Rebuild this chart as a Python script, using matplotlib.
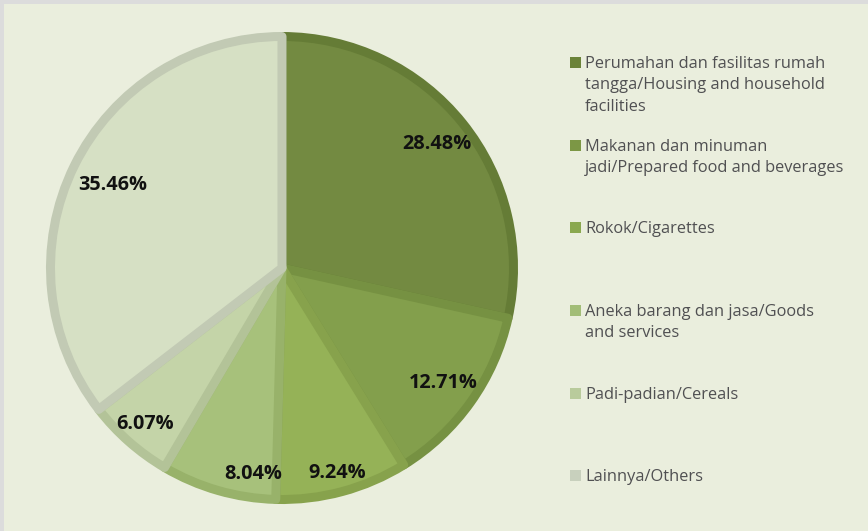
import matplotlib
matplotlib.use("Agg")
import matplotlib.pyplot as plt
from matplotlib.patches import Rectangle
import numpy as np

categories = [
    "Perumahan dan fasilitas rumah\ntangga/Housing and household\nfacilities",
    "Makanan dan minuman\njadi/Prepared food and beverages",
    "Rokok/Cigarettes",
    "Aneka barang dan jasa/Goods\nand services",
    "Padi-padian/Cereals",
    "Lainnya/Others",
]
values = [28.48, 12.71, 9.24, 8.04, 6.07, 35.46]
pct_labels = ["28.48%", "12.71%", "9.24%", "8.04%", "6.07%", "35.46%"]

fills = ["#738a41", "#839f4c", "#95b257", "#a7c17b", "#c4d4a8", "#d6e0c4"]
edges = ["#657c36", "#769142", "#87a24c", "#98b26a", "#b3c398", "#c2cab4"]
legend_cols = ["#6b8339", "#7c9745", "#8aa84f", "#a2bd77", "#b9cb9c", "#c8d0bd"]
label_r = [0.84, 0.84, 0.90, 0.88, 0.88, 0.80]
label_dang = [0, 0, 0, 8, 0, 0]

BG = "#eaeedd"
W, H = 868, 531
fig = plt.figure(figsize=(W / 100, H / 100), dpi=100)
fig.patch.set_facecolor("#dcdcdc")
fig.patches.append(Rectangle((4 / W, 0), 1, (H - 4) / H, transform=fig.transFigure,
                             facecolor=BG, edgecolor="none", zorder=-5))

# pie axes: center (282,268), radius ~236
R = 236
ax = fig.add_axes([(282 - R) / W, (H - 268 - R) / H, 2 * R / W, 2 * R / H])
ax.set_zorder(2)
lw_px = 9
wedges, _ = ax.pie(values, startangle=90, counterclock=False, colors=fills,
                   radius=1 - (lw_px / 2) / R, wedgeprops=dict(linewidth=lw_px * 0.72))
ax.set_xlim(-1, 1)
ax.set_ylim(-1, 1)
ax.set_aspect("equal")
ax.axis("off")
for w, ec in zip(wedges, edges):
    w.set_edgecolor(ec)
    w.set_joinstyle("round")

for w, lab, r, da in zip(wedges, pct_labels, label_r, label_dang):
    ang = np.deg2rad((w.theta1 + w.theta2) / 2 + da)
    ax.text(r * np.cos(ang), r * np.sin(ang), lab, ha="center", va="center",
            fontsize=14.3, fontweight="bold", family="Open Sans", color="#111111",
            zorder=5)

# legend
ys = [62, 145, 227, 310, 393, 475]
for cat, col, y in zip(categories, legend_cols, ys):
    fig.patches.append(Rectangle((570 / W, (H - y - 6) / H), 11 / W, 11 / H,
                                 transform=fig.transFigure, facecolor=col,
                                 edgecolor="none", zorder=1))
    fig.text(585 / W, (H - y + 6) / H, cat, ha="left", va="top", fontsize=11.8,
             family="Open Sans", color="#505052", linespacing=1.45)

fig.savefig("out.png", dpi=100, facecolor=fig.get_facecolor())
